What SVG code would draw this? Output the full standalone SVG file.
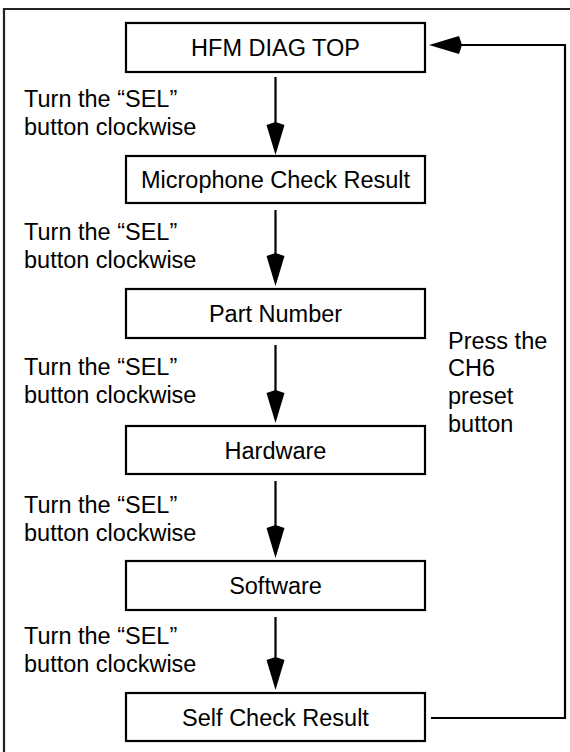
<svg xmlns="http://www.w3.org/2000/svg" width="570" height="752" viewBox="0 0 570 752">
<style>
.box{fill:#fff;stroke:#000;stroke-width:2.2}
.t{font-family:"Liberation Sans",Arial,sans-serif;font-size:23.5px;fill:#000}
.c{text-anchor:middle}
.line{fill:none;stroke:#000;stroke-width:2.2}
.head{fill:#000;stroke:none}
</style>
<rect width="570" height="752" fill="#fff"/>
<path d="M4,752 V9 H570" fill="none" stroke="#222" stroke-width="2.2"/>
<g id="n1"><rect class="box" x="126" y="23" width="299" height="49"/><text class="t c" x="275.5" y="56">HFM DIAG TOP</text></g>
<g id="n2"><rect class="box" x="126" y="156" width="299" height="47"/><text class="t c" x="275.5" y="188">Microphone Check Result</text></g>
<g id="n3"><rect class="box" x="126" y="289" width="299" height="49"/><text class="t c" x="275.5" y="322">Part Number</text></g>
<g id="n4"><rect class="box" x="126" y="426" width="299" height="48"/><text class="t c" x="275.5" y="458.5">Hardware</text></g>
<g id="n5"><rect class="box" x="126" y="561" width="299" height="49"/><text class="t c" x="275.5" y="594">Software</text></g>
<g id="n6"><rect class="box" x="126" y="693" width="299" height="48"/><text class="t c" x="275.5" y="725.5">Self Check Result</text></g>
<g id="connectors">
<path class="line" d="M275.5,77 V125"/>
<path class="head" d="M275.5,122 L284.5,125 L275.5,155 L266.5,125 Z"/>
<path class="line" d="M275.5,210 V256"/>
<path class="head" d="M275.5,253 L284.5,256 L275.5,286 L266.5,256 Z"/>
<path class="line" d="M275.5,345 V393"/>
<path class="head" d="M275.5,390 L284.5,393 L275.5,423 L266.5,393 Z"/>
<path class="line" d="M275.5,481 V528"/>
<path class="head" d="M275.5,525 L284.5,528 L275.5,558 L266.5,528 Z"/>
<path class="line" d="M275.5,617 V660"/>
<path class="head" d="M275.5,657 L284.5,660 L275.5,690 L266.5,660 Z"/>
<path class="line" d="M431,718 H565 V45 H458"/>
<path class="head" d="M462,45 L459,54 L429,45 L459,36 Z"/>
</g>
<g id="labels">
<text class="t" x="24" y="107">Turn the “SEL”</text><text class="t" x="24" y="135">button clockwise</text>
<text class="t" x="24" y="240">Turn the “SEL”</text><text class="t" x="24" y="268">button clockwise</text>
<text class="t" x="24" y="375">Turn the “SEL”</text><text class="t" x="24" y="403">button clockwise</text>
<text class="t" x="24" y="512.5">Turn the “SEL”</text><text class="t" x="24" y="540.5">button clockwise</text>
<text class="t" x="24" y="644">Turn the “SEL”</text><text class="t" x="24" y="672">button clockwise</text>
<text class="t" x="448" y="348.5">Press the</text>
<text class="t" x="448" y="376.3">CH6</text>
<text class="t" x="448" y="404">preset</text>
<text class="t" x="448" y="431.6">button</text>
</g>
</svg>
